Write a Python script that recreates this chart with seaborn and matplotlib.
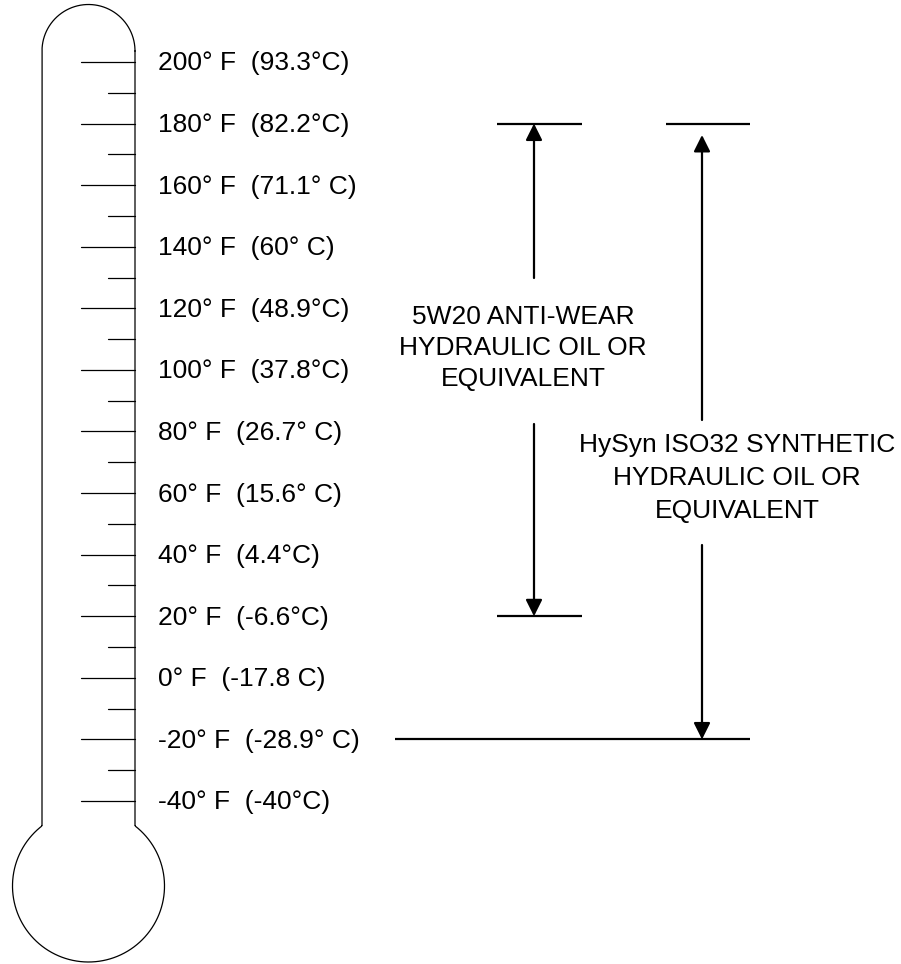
import numpy as np
import pandas as pd
import matplotlib
matplotlib.use("Agg")
import matplotlib.pyplot as plt
import seaborn as sns

# ---- data ----
temps_f = [200, 180, 160, 140, 120, 100, 80, 60, 40, 20, 0, -20, -40]
temp_labels = ["200° F  (93.3°C)", "180° F  (82.2°C)", "160° F  (71.1° C)",
               "140° F  (60° C)", "120° F  (48.9°C)", "100° F  (37.8°C)",
               "80° F  (26.7° C)", "60° F  (15.6° C)", "40° F  (4.4°C)",
               "20° F  (-6.6°C)", "0° F  (-17.8 C)", "-20° F  (-28.9° C)",
               "-40° F  (-40°C)"]
minor_f = [190, 170, 150, 130, 110, 90, 70, 50, 30, 10, -10, -30]
oil_names = ["5W20 ANTI-WEAR\nHYDRAULIC OIL OR\nEQUIVALENT",
             "HySyn ISO32 SYNTHETIC\nHYDRAULIC OIL OR\nEQUIVALENT"]
oil_min_f = [20, -20]
oil_max_f = [180, 180]

sns.set_theme(style="white")
plt.rcParams['font.family'] = ['Liberation Sans', 'DejaVu Sans']

W, H = 901, 964
fig = plt.figure(figsize=(W / 100, H / 100), dpi=100)
ax = fig.add_axes([0, 0, 1, 1])

# pixel-y <-> degF mapping
P200, PM40 = 62.0, 801.0
k = (PM40 - P200) / 240.0
def p2t(p):
    return 200.0 - (np.asarray(p) - P200) / k

lw_thin = 0.9
# thermometer outline
cx, r_top, cy_top = 88.5, 46.5, 51.0
th = np.linspace(0, np.pi, 100)
xs_top = cx + r_top * np.cos(th)
ys_top = cy_top - r_top * np.sin(th)
bulb_cy, bulb_r, neck_y = 886.0, 76.0, 826.0
join = np.arctan2(-(neck_y - bulb_cy), r_top)
t = np.linspace(join, -np.pi - join, 300)
xs_b = cx + bulb_r * np.cos(t)
ys_b = bulb_cy - bulb_r * np.sin(t)
outline_x = np.concatenate([[cx + r_top, cx + r_top], xs_b, [cx - r_top, cx - r_top], xs_top[::-1]])
outline_y = np.concatenate([[cy_top, neck_y], ys_b, [neck_y, cy_top], ys_top[::-1]])
ax.plot(outline_x, p2t(outline_y), color="black", lw=lw_thin, solid_joinstyle="miter")

# tick marks via seaborn
rows = []
for i, t_ in enumerate(temps_f):
    rows += [dict(tick=f"M{i}", x=81, y=t_), dict(tick=f"M{i}", x=cx + r_top, y=t_)]
for i, t_ in enumerate(minor_f):
    rows += [dict(tick=f"m{i}", x=108, y=t_), dict(tick=f"m{i}", x=cx + r_top, y=t_)]
ticks = pd.DataFrame(rows)
sns.lineplot(data=ticks, x="x", y="y", units="tick", estimator=None, sort=False,
             color="black", lw=lw_thin, ax=ax, legend=False)

fs = 19
for t_, lab in zip(temps_f, temp_labels):
    ax.text(158, float(p2t(float(P200 + (200 - t_) * k) + 1.5)), lab, fontsize=fs,
            va="center", ha="left", color="black")

# oil range brackets
lw_b = 1.6
arrow_x = [534, 702]
bar_left = [497, 666]
bar_right = [582, 750]
bottom_left = [497, 395]
text_cx = [523, 737]
text_cy = [348, 478]
line_sp = [1.38, 1.45]
gap_top = [278, 420]
gap_bot = [424, 545]
top_tip = [125, 135]
for i in range(2):
    ax.hlines(oil_max_f[i], bar_left[i], bar_right[i], color="black", lw=lw_b)
    ax.hlines(oil_min_f[i], bottom_left[i], bar_right[i], color="black", lw=lw_b)
    ax.text(text_cx[i], float(p2t(text_cy[i])), oil_names[i], fontsize=fs, ha="center",
            va="center", multialignment="center", linespacing=line_sp[i], color="black")
    ap = dict(arrowstyle="-|>", lw=lw_b, color="black", mutation_scale=25,
              shrinkA=0, shrinkB=0)
    tip_up = oil_max_f[i] if i == 0 else float(p2t(top_tip[i]))
    ax.annotate("", xy=(arrow_x[i], tip_up), xytext=(arrow_x[i], float(p2t(gap_top[i]))),
                arrowprops=ap)
    ax.annotate("", xy=(arrow_x[i], oil_min_f[i]), xytext=(arrow_x[i], float(p2t(gap_bot[i]))),
                arrowprops=ap)

ax.set_xlim(0, W)
ax.set_ylim(float(p2t(H)), float(p2t(0)))
ax.set_axis_off()

fig.savefig("out.png", dpi=100, facecolor="white")
